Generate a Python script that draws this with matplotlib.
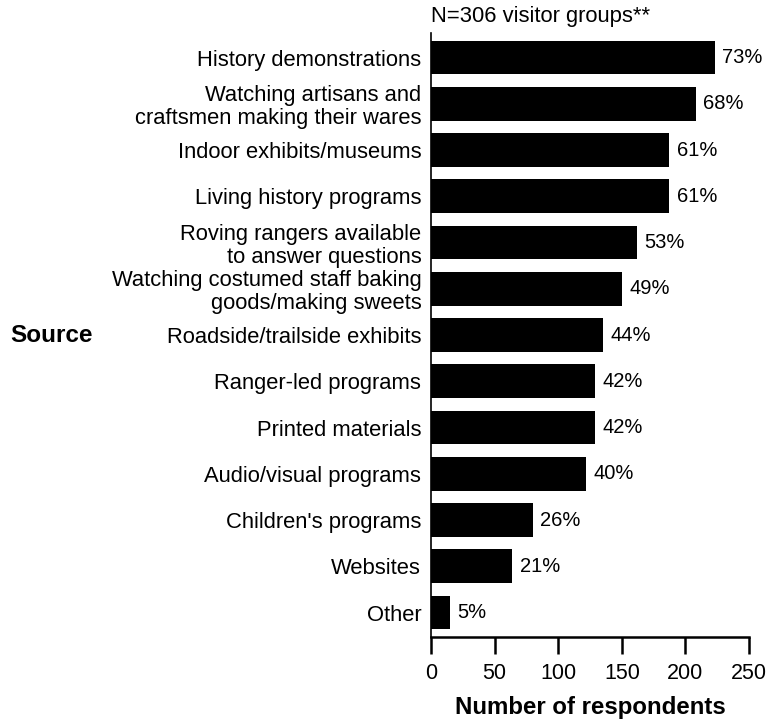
import matplotlib
matplotlib.use('Agg')
import matplotlib.pyplot as plt

plt.rcParams['font.family'] = ['Liberation Sans', 'DejaVu Sans']

categories = [
    'History demonstrations',
    'Watching artisans and\ncraftsmen making their wares',
    'Indoor exhibits/museums',
    'Living history programs',
    'Roving rangers available\nto answer questions',
    'Watching costumed staff baking\ngoods/making sweets',
    'Roadside/trailside exhibits',
    'Ranger-led programs',
    'Printed materials',
    'Audio/visual programs',
    "Children's programs",
    'Websites',
    'Other',
]
counts = [223, 208, 187, 187, 162, 150, 135, 129, 129, 122, 80, 64, 15]
percents = ['73%', '68%', '61%', '61%', '53%', '49%', '44%', '42%', '42%', '40%', '26%', '21%', '5%']
xticks = [0, 50, 100, 150, 200, 250]

fig = plt.figure(figsize=(7.77, 7.19), dpi=100)
ax = fig.add_axes([0.5547, 0.114, 0.4093, 0.840])

ypos = list(range(len(categories)))
ax.barh(ypos, counts, height=0.73, color='black')
for y, c, p in zip(ypos, counts, percents):
    ax.text(c + 6, y, p, va='center', ha='left', fontsize=14.5)

ax.set_ylim(len(categories) - 0.47, -0.53)
ax.set_xlim(0, 250)
ax.set_yticks(ypos)
ax.set_yticklabels(categories, fontsize=15.8, linespacing=1.1)
ax.tick_params(axis='y', length=0, pad=7)
ax.set_xticks(xticks)
ax.set_xticklabels([str(t) for t in xticks], fontsize=15.5)
ax.tick_params(axis='x', length=12, width=1.8, direction='out', pad=7)

for s in ['top', 'right']:
    ax.spines[s].set_visible(False)
ax.spines['left'].set_linewidth(1.2)
ax.spines['bottom'].set_linewidth(1.8)

ax.set_xlabel('Number of respondents', fontsize=17.3, fontweight='bold', labelpad=8)
ax.text(0, 1.01, 'N=306 visitor groups**', transform=ax.transAxes,
        fontsize=15.8, ha='left', va='bottom')
fig.text(0.013, 0.534, 'Source', fontsize=17.5, fontweight='bold', ha='left', va='center')

fig.savefig('out.png', dpi=100)
